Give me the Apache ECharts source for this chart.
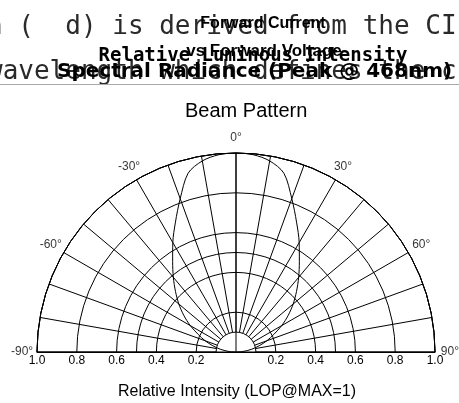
<!DOCTYPE html>
<html><head><meta charset="utf-8">
<script src="https://cdn.jsdelivr.net/npm/echarts@6/dist/echarts.min.js"></script>
<style>html,body{margin:0;padding:0;background:#fff}#c{width:459px;height:403px}</style>
</head><body><div id="c"></div>
<script>
// ---- data ----
const beamAngles = [-90,-85,-80,-75,-70,-65,-60,-55,-50,-45,-40,-35,-30,-25,-20,-15,-10,-5,0,5,10,15,20,25,30,35,40,45,50,55,60,65,70,75,80,85,90];
const beamIntensity = [0,0.04,0.08,0.12,0.165,0.21,0.265,0.32,0.375,0.43,0.49,0.555,0.635,0.72,0.82,0.93,0.975,0.995,1.0,0.995,0.975,0.93,0.82,0.72,0.635,0.555,0.49,0.43,0.375,0.32,0.265,0.21,0.165,0.12,0.08,0.04,0];
const angleLabelValues = [-90,-60,-30,0,30,60,90];
const angleLabelTexts = ['-90°','-60°','-30°','0°','30°','60°','90°'];
const xTickValues = [-1,-0.8,-0.6,-0.4,-0.2,0,0.2,0.4,0.6,0.8,1];
const xTickLabels = ['1.0','0.8','0.6','0.4','0.2','','0.2','0.4','0.6','0.8','1.0'];
const chartTitle = 'Beam Pattern';
const xName = 'Relative Intensity (LOP@MAX=1)';
const headerLines = [
  'n (  d) is derived from the CI',
  'wavelength which defines the c',
  'Forward Current',
  'vs Forward Voltage',
  'Relative Luminous Intensity',
  'Spectral Radiance (Peak @ 468nm)'
];

// ---- layout ----
const CX = 236, CY = 352, R = 199;
const LABEL_R = 1.075;
const BLACK = '#000';
const ln = {color: BLACK, width: 1};
const FONT = '"Liberation Sans", Arial, Helvetica, sans-serif';
const MONO = '"DejaVu Sans Mono", monospace';

function angleAxisBase(idx, extra) {
  return Object.assign({
    polarIndex: idx, type: 'value', min: -90, max: 90, interval: 90,
    startAngle: 180, endAngle: 0, clockwise: true,
    axisLine: {show: false}, axisTick: {show: false}, axisLabel: {show: false},
    splitLine: {show: false}, splitArea: {show: false}
  }, extra);
}
function radiusAxisBase(idx, extra) {
  return Object.assign({
    polarIndex: idx, type: 'value', min: 0, max: 1,
    axisLine: {show: false}, axisTick: {show: false}, axisLabel: {show: false},
    splitLine: {show: false}, splitArea: {show: false}
  }, extra);
}

const chart = echarts.init(document.getElementById('c'));
chart.setOption({
  animation: false,
  backgroundColor: '#fff',
  polar: [
    {center: [CX, CY], radius: [R * 0.1, R]},
    {center: [CX, CY], radius: [0, R]},
    {center: [CX, CY], radius: [0, R]},
    {center: [CX, CY], radius: [0, R * 0.1]}
  ],
  angleAxis: [
    angleAxisBase(0, {interval: 10, splitLine: {show: true, lineStyle: ln}}),
    angleAxisBase(1, {axisLine: {show: true, lineStyle: ln}, splitLine: {show: true, lineStyle: ln}}),
    angleAxisBase(2, {}),
    angleAxisBase(3, {axisLine: {show: true, lineStyle: ln}})
  ],
  radiusAxis: [
    radiusAxisBase(0, {min: 0.1, max: 1, interval: 0.9}),
    radiusAxisBase(1, {interval: 0.2, splitLine: {show: true, lineStyle: ln}}),
    radiusAxisBase(2, {interval: 0.5, splitLine: {show: true, lineStyle: ln}}),
    radiusAxisBase(3, {max: 0.1, interval: 0.1})
  ],
  grid: {left: CX - R, width: 2 * R, top: 150, bottom: 403 - CY, show: false},
  xAxis: {
    type: 'value', min: -1, max: 1, interval: 0.2,
    axisLine: {show: true, lineStyle: ln}, axisTick: {show: false}, splitLine: {show: false},
    axisLabel: {margin: 3, color: BLACK, fontSize: 12, fontFamily: FONT,
      formatter: v => { const i = xTickValues.findIndex(t => Math.abs(t - v) < 1e-6); return i >= 0 ? xTickLabels[i] : ''; }}
  },
  yAxis: {type: 'value', show: false, min: 0, max: 1},
  title: [
    {text: chartTitle, left: 185, top: 101, padding: 0,
     textStyle: {fontSize: 20, fontWeight: 'normal', color: BLACK, fontFamily: FONT}}
  ],
  graphic: [
    {type: 'text', x: -13, y: 27, silent: true, style: {text: headerLines[0], fontSize: 26, fontFamily: MONO, fill: '#2a2a2a', textVerticalAlign: 'middle'}},
    {type: 'text', x: -13, y: 72, silent: true, style: {text: headerLines[1], fontSize: 26, fontFamily: MONO, fill: '#2a2a2a', textVerticalAlign: 'middle'}},
    {type: 'text', x: 263, y: 24, silent: true, style: {text: headerLines[2], fontSize: 16, fontWeight: 'bold', fontFamily: '"Liberation Sans Narrow", ' + FONT, fill: '#000', textAlign: 'center', textVerticalAlign: 'middle'}},
    {type: 'text', x: 264, y: 51, silent: true, style: {text: headerLines[3], fontSize: 17, fontWeight: 'bold', fontFamily: '"Liberation Sans Narrow", ' + FONT, fill: '#000', textAlign: 'center', textVerticalAlign: 'middle'}},
    {type: 'text', x: 253, y: 56, silent: true, style: {text: headerLines[4], fontSize: 19, fontWeight: 'bold', fontFamily: MONO, fill: '#000', textAlign: 'center', textVerticalAlign: 'middle'}},
    {type: 'text', x: 57, y: 72, silent: true, style: {text: headerLines[5], fontSize: 20, fontWeight: 'bold', fontFamily: '"DejaVu Sans", sans-serif', fill: '#000', textVerticalAlign: 'middle'}},
    {type: 'rect', z: 50, silent: true, shape: {x: 0, y: 85, width: 459, height: 14}, style: {fill: '#fff'}},
    {type: 'line', z: 51, silent: true, shape: {x1: 0, y1: 84.5, x2: 459, y2: 84.5}, style: {stroke: '#aaa', lineWidth: 1}},
    {type: 'text', x: 237, y: 392, silent: true, style: {text: xName, fontSize: 16, fontFamily: FONT, fill: BLACK, textAlign: 'center', textVerticalAlign: 'middle'}}
  ],
  series: [
    {type: 'line', coordinateSystem: 'polar', polarIndex: 1, smooth: 0.3, symbol: 'none',
     lineStyle: {color: BLACK, width: 1}, silent: true,
     data: beamAngles.map((a, i) => [beamIntensity[i], a])},
    {type: 'scatter', coordinateSystem: 'polar', polarIndex: 1, symbolSize: 0, clip: false, silent: true,
     label: {show: true, position: 'inside', color: BLACK, fontSize: 12, fontFamily: FONT,
       formatter: p => angleLabelTexts[p.dataIndex]},
     data: angleLabelValues.map(a => [LABEL_R, a])}
  ]
});
</script></body></html>
